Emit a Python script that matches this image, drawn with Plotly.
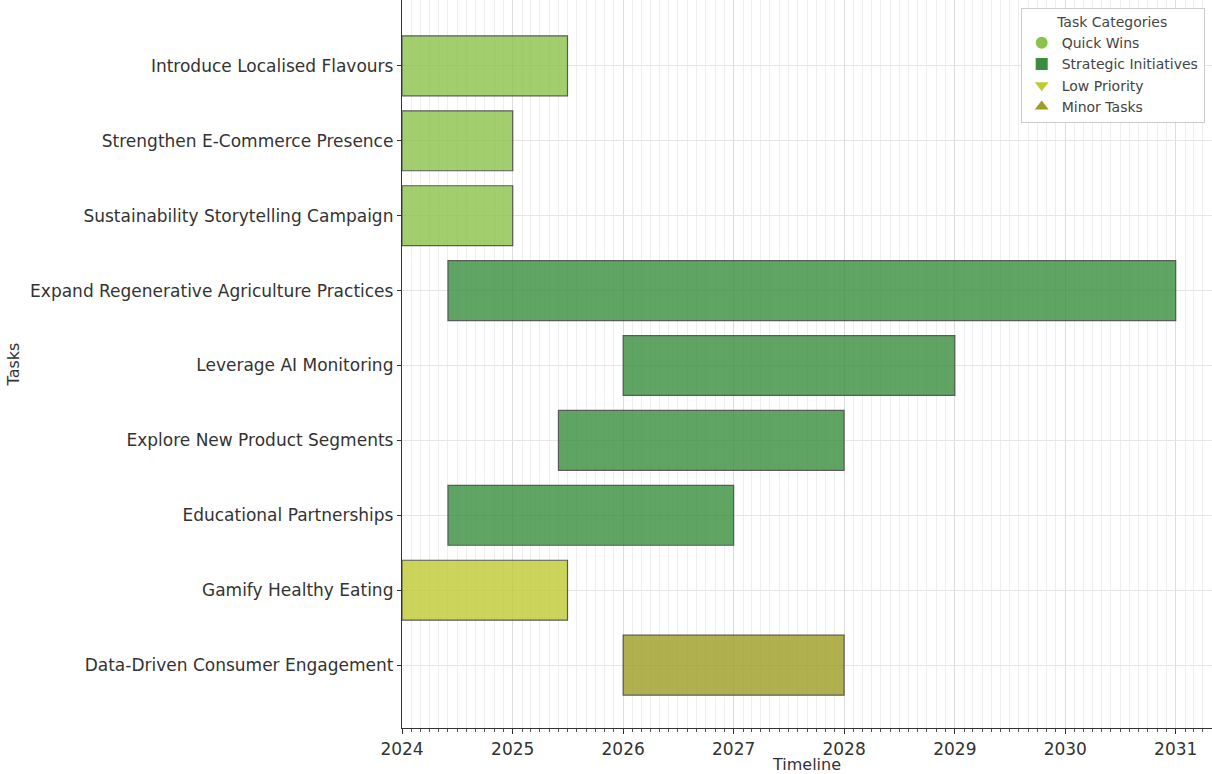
import plotly.graph_objects as go
import pandas as pd

tasks = [
    "Introduce Localised Flavours",
    "Strengthen E-Commerce Presence",
    "Sustainability Storytelling Campaign",
    "Expand Regenerative Agriculture Practices",
    "Leverage AI Monitoring",
    "Explore New Product Segments",
    "Educational Partnerships",
    "Gamify Healthy Eating",
    "Data-Driven Consumer Engagement",
]
starts = ["2024-01-01", "2024-01-01", "2024-01-01", "2024-06-01", "2026-01-01",
          "2025-06-01", "2024-06-01", "2024-01-01", "2026-01-01"]
ends = ["2025-07-01", "2025-01-01", "2025-01-01", "2031-01-01", "2029-01-01",
        "2028-01-01", "2027-01-01", "2025-07-01", "2028-01-01"]
categories = ["Quick Wins", "Quick Wins", "Quick Wins", "Strategic Initiatives",
              "Strategic Initiatives", "Strategic Initiatives", "Strategic Initiatives",
              "Low Priority", "Minor Tasks"]

cat_names = ["Quick Wins", "Strategic Initiatives", "Low Priority", "Minor Tasks"]
cat_colors = {"Quick Wins": "#8BC34A", "Strategic Initiatives": "#388E3C",
              "Low Priority": "#C0CA33", "Minor Tasks": "#9E9D24"}
cat_symbols = {"Quick Wins": "circle", "Strategic Initiatives": "square",
               "Low Priority": "triangle-down", "Minor Tasks": "triangle-up"}

FONT = "DejaVu Sans"
fig = go.Figure()

s = pd.to_datetime(starts)
e = pd.to_datetime(ends)
durations_ms = [(b - a).total_seconds() * 1000 for a, b in zip(s, e)]

for cat in cat_names:
    idx = [i for i, c in enumerate(categories) if c == cat]
    fig.add_trace(go.Bar(
        y=[tasks[i] for i in idx],
        x=[durations_ms[i] for i in idx],
        base=[starts[i] for i in idx],
        orientation="h",
        width=0.8,
        marker=dict(color=cat_colors[cat], opacity=0.8,
                    line=dict(color="#333333", width=1.2)),
        showlegend=False,
        hoverinfo="skip",
    ))

for cat in cat_names:
    fig.add_trace(go.Scatter(
        x=[None], y=[None], mode="markers", name=cat,
        marker=dict(symbol=cat_symbols[cat], color=cat_colors[cat], size=13),
    ))

fig.update_layout(
    width=1212, height=774,
    margin=dict(l=402, r=0, t=0, b=46),
    paper_bgcolor="white", plot_bgcolor="white",
    font=dict(family=FONT, size=17, color="#333333"),
    bargap=0.2,
    legend=dict(
        x=0.991, y=0.989, xanchor="right", yanchor="top",
        bgcolor="white", bordercolor="#cccccc", borderwidth=1,
        font=dict(family=FONT, size=14, color="#444444"),
        title=dict(text="Task Categories", side="top center",
                   font=dict(family=FONT, size=14, color="#444444")),
        itemsizing="constant", tracegroupgap=0,
    ),
)

fig.update_xaxes(
    type="date",
    range=["2024-01-01", "2031-05-01"],
    dtick="M12", tickformat="%Y",
    tick0="2024-01-01",
    showline=True, linecolor="#333333", linewidth=1.3,
    ticks="outside", ticklen=5, tickcolor="#333333",
    showgrid=True, gridcolor="#dddddd", gridwidth=1,
    minor=dict(dtick="M1", showgrid=True, gridcolor="#eeeeee", gridwidth=1,
               ticks="outside", ticklen=3, tickcolor="#555555"),
    title=dict(text="Timeline", standoff=3, font=dict(family=FONT, size=16)),
    tickfont=dict(family=FONT, size=17),
    zeroline=False,
)

fig.update_yaxes(
    type="category",
    categoryorder="array", categoryarray=tasks,
    range=[8.84, -0.88],
    showline=True, linecolor="#333333", linewidth=1.3,
    ticks="outside", ticklen=4, tickcolor="#333333",
    showgrid=True, gridcolor="#e6e6e6", gridwidth=1,
    title=dict(text="Tasks", standoff=6, font=dict(family=FONT, size=16)),
    tickfont=dict(family=FONT, size=17),
    zeroline=False,
)

fig.write_html("out.html")
